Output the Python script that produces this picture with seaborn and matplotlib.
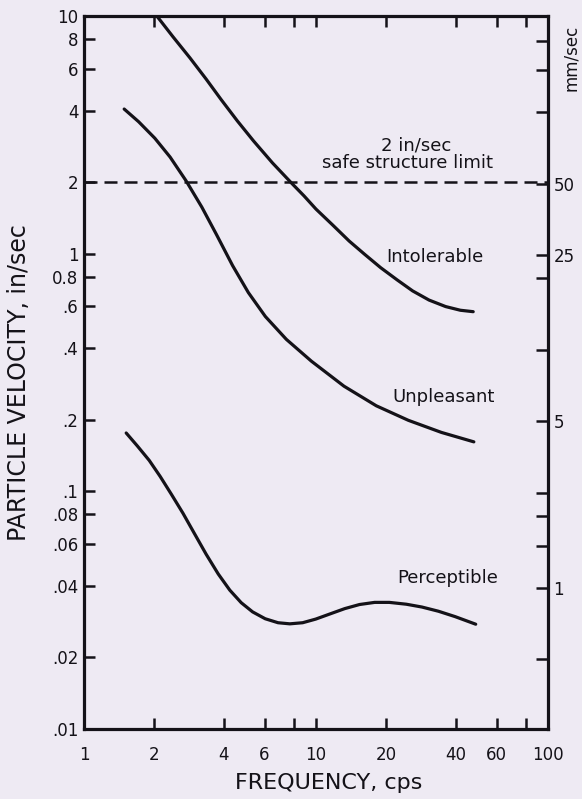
import numpy as np
import pandas as pd
import matplotlib
matplotlib.use("Agg")
import matplotlib.pyplot as plt
import seaborn as sns
from matplotlib.ticker import FixedLocator, FixedFormatter, NullLocator

# ---------------- data ----------------
intolerable_f = [2.06, 2.42, 2.86, 3.36, 3.90, 4.58, 5.38, 6.49, 7.85, 8.88, 10.0, 11.8,
                 13.9, 16.2, 19.0, 22.4, 26.1, 30.7, 36.2, 41.9, 47.6]
intolerable_v = [10.0, 8.17, 6.67, 5.43, 4.45, 3.62, 2.98, 2.41, 1.98, 1.75, 1.54, 1.32,
                 1.13, 0.994, 0.873, 0.775, 0.697, 0.638, 0.599, 0.578, 0.570]

unpleasant_f = [1.49, 1.72, 2.02, 2.35, 2.75, 3.22, 3.73, 4.37, 5.11, 6.05, 7.45, 9.55,
                13.2, 18.2, 25.0, 34.7, 47.9]
unpleasant_v = [4.06, 3.59, 3.06, 2.55, 2.03, 1.57, 1.20, 0.891, 0.686, 0.544, 0.436, 0.353,
                0.277, 0.229, 0.199, 0.177, 0.1615]

perceptible_f = [1.52, 1.70, 1.91, 2.13, 2.38, 2.67, 2.98, 3.36, 3.79, 4.25, 4.76, 5.33, 6.04,
                 6.86, 7.71, 8.76, 9.97, 11.5, 13.3, 15.4, 17.9, 20.7, 24.5, 28.6, 33.7, 39.8, 48.8]
perceptible_v = [0.176, 0.155, 0.135, 0.1155, 0.0972, 0.0809, 0.0669, 0.0544, 0.0449, 0.0384,
                 0.0340, 0.0311, 0.0291, 0.0280, 0.0277, 0.0280, 0.0290, 0.0305, 0.0321, 0.0334,
                 0.0341, 0.0341, 0.0335, 0.0326, 0.0313, 0.0297, 0.0276]

limit_f = [1, 100]
limit_v = [2.0, 2.0]

xtick_vals = [1, 2, 4, 6, 8, 10, 20, 40, 60, 80, 100]
xtick_labels = ["1", "2", "4", "6", "", "10", "20", "40", "60", "", "100"]

ytick_vals = [0.01, 0.02, 0.04, 0.06, 0.08, 0.1, 0.2, 0.4, 0.6, 0.8, 1, 2, 4, 6, 8, 10]
ytick_labels = [".01", ".02", ".04", ".06", ".08", ".1", ".2", ".4", ".6", "0.8", "1", "2", "4", "6", "8", "10"]

mm_tick_vals = [0.5, 1, 1.5, 2, 2.5, 5, 10, 20, 25, 50, 100, 150, 200]
mm_tick_labels = ["", "1", "", "", "", "5", "", "", "25", "50", "", "", ""]

# ---------------- style ----------------
bg = "#eeeaf3"
ink = "#141218"

sns.set_theme(style="white")
plt.rcParams["font.family"] = ["DejaVu Sans"]

W, H = 582, 799
fig = plt.figure(figsize=(W / 100, H / 100), dpi=100)
fig.patch.set_facecolor(bg)

L, R, T, B = 84, 548, 16, 729
ax = fig.add_axes([L / W, 1 - B / H, (R - L) / W, (B - T) / H])
ax.set_facecolor(bg)

df = pd.concat([
    pd.DataFrame({"freq": intolerable_f, "vel": intolerable_v, "curve": "Intolerable"}),
    pd.DataFrame({"freq": unpleasant_f, "vel": unpleasant_v, "curve": "Unpleasant"}),
    pd.DataFrame({"freq": perceptible_f, "vel": perceptible_v, "curve": "Perceptible"}),
], ignore_index=True)

sns.lineplot(data=df, x="freq", y="vel", hue="curve",
             palette={"Intolerable": ink, "Unpleasant": ink, "Perceptible": ink},
             estimator=None, sort=False, lw=2.3, legend=False, ax=ax)
for ln in ax.lines:
    ln.set_solid_joinstyle("round")
    ln.set_solid_capstyle("round")

lim_df = pd.DataFrame({"freq": limit_f, "vel": limit_v})
sns.lineplot(data=lim_df, x="freq", y="vel", color=ink, lw=1.8, ax=ax, legend=False)
ax.lines[-1].set_dashes((5.2, 2.8))

ax.set_xscale("log")
ax.set_yscale("log")
ax.set_xlim(1, 100)
ax.set_ylim(0.01, 10)

ax.xaxis.set_major_locator(FixedLocator(xtick_vals))
ax.xaxis.set_major_formatter(FixedFormatter(xtick_labels))
ax.xaxis.set_minor_locator(NullLocator())
ax.yaxis.set_major_locator(FixedLocator(ytick_vals))
ax.yaxis.set_major_formatter(FixedFormatter(ytick_labels))
ax.yaxis.set_minor_locator(NullLocator())

ax.tick_params(axis="x", which="major", direction="in", length=8, width=1.8,
               top=True, bottom=True, labelsize=12, pad=12, colors=ink)
ax.tick_params(axis="y", which="major", direction="in", length=8, width=1.8,
               left=True, right=False, labelsize=12, pad=4, colors=ink)

for s in ax.spines.values():
    s.set_linewidth(2.3)
    s.set_color(ink)
    s.set_visible(True)

ax.set_xlabel("FREQUENCY, cps", fontsize=16, color=ink)
ax.xaxis.set_label_coords(0.528, -0.062)
ax.set_ylabel("PARTICLE VELOCITY, in/sec", fontsize=17, color=ink)
ax.yaxis.set_label_coords(-0.115, 0.486)

# right-hand mm/sec scale
ax2 = ax.twinx()
ax2.set_yscale("log")
ax2.set_ylim(0.01 * 25.4, 10 * 25.4)
ax2.yaxis.set_major_locator(FixedLocator(mm_tick_vals))
ax2.yaxis.set_major_formatter(FixedFormatter(mm_tick_labels))
ax2.yaxis.set_minor_locator(NullLocator())
ax2.tick_params(axis="y", which="major", direction="in", length=9, width=1.8,
                labelsize=12, pad=4, colors=ink)
for s in ax2.spines.values():
    s.set_visible(False)
ax2.set_ylabel("mm/sec", fontsize=12, color=ink, rotation=90)
ax2.yaxis.set_label_coords(1.03, 0.941)
ax2.grid(False)
ax.grid(False)

# annotations
def axpos(px, py):
    return ((px - L) / (R - L), (B - py) / (B - T))

txt_kw = dict(transform=ax.transAxes, ha="center", va="center", color=ink, fontsize=13)
ax.text(*axpos(416, 145), "2 in/sec", **txt_kw)
ax.text(*axpos(408, 163), "safe structure limit", **txt_kw)
ax.text(*axpos(435, 257), "Intolerable", **txt_kw)
ax.text(*axpos(444, 397), "Unpleasant", **txt_kw)
ax.text(*axpos(448, 578), "Perceptible", **txt_kw)

fig.savefig("out.png", dpi=100, facecolor=bg)
